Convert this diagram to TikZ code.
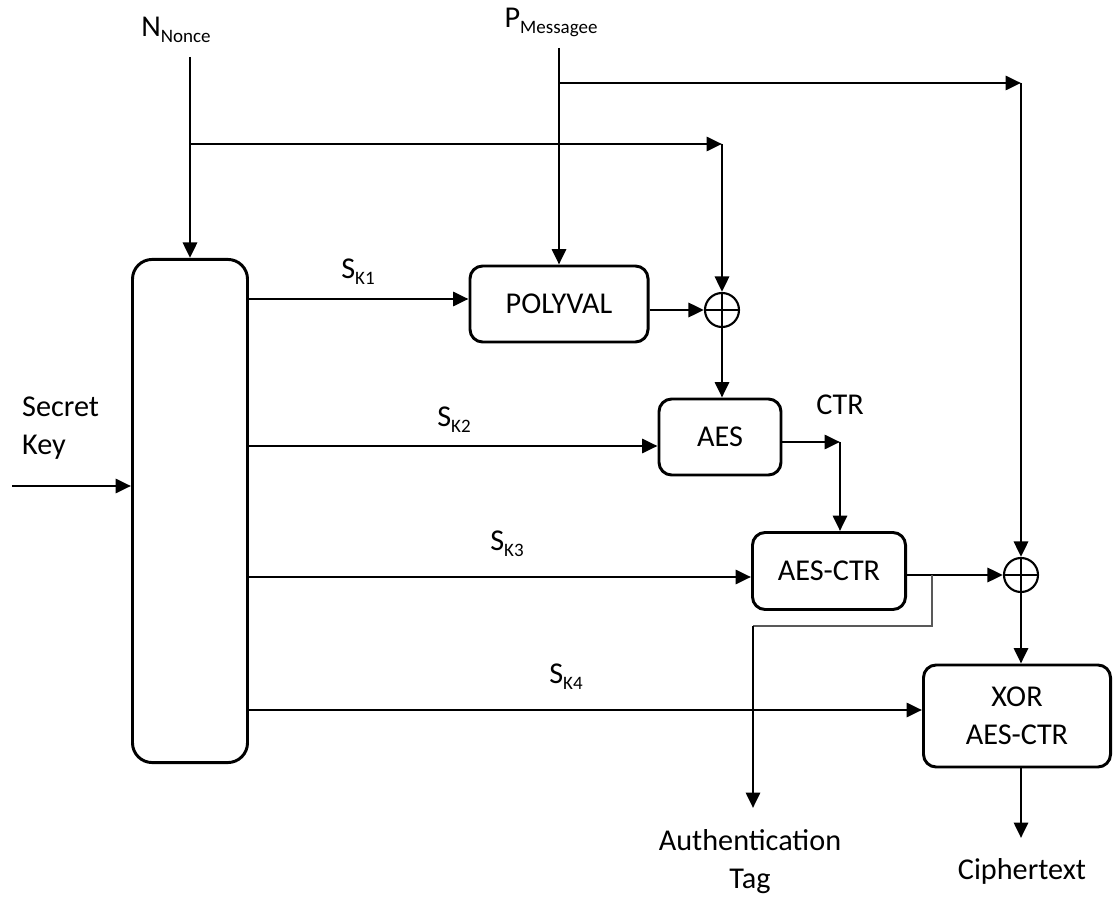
\documentclass[tikz,border=0pt]{standalone}
\usepackage{fontspec}
\setmainfont{Carlito}
\usepackage{tikz}
\usetikzlibrary{arrows.meta}
\newcommand{\lowsub}[1]{\raisebox{-0.2em}{\fontsize{13.5}{15}\selectfont #1}}

\begin{document}
\begin{tikzpicture}[
    x=0.025cm, y=-0.025cm,
    font=\fontsize{21.5}{27}\selectfont,
    >={Triangle[length=11pt, width=10pt]},
    line width=2.1pt,
    block/.style={draw, rounded corners=9pt, align=center},
    xorsum/.style={draw, circle, minimum size=0.85cm, inner sep=0pt, line width=1.5pt,
        path picture={\draw[line width=1.5pt]
            (path picture bounding box.north) -- (path picture bounding box.south)
            (path picture bounding box.west) -- (path picture bounding box.east);}}
]

\useasboundingbox (0,0) rectangle (1113,899);

\node[block, minimum width=2.875cm, minimum height=12.575cm, rounded corners=14pt] (keybox) at (190,511) {};
\node[block, minimum width=4.45cm, minimum height=1.9cm] (polyval) at (559,304) {POLYVAL};
\node[xorsum] (xor1) at (722,310) {};
\node[block, minimum width=3.05cm, minimum height=1.9cm] (aes) at (720,437) {AES};
\node[block, minimum width=3.825cm, minimum height=1.925cm] (aesctr) at (829,571) {AES-CTR};
\node[xorsum] (xor2) at (1021,575) {};
\node[block, minimum width=4.675cm, minimum height=2.55cm] (xorctr) at (1017,716) {XOR\\AES-CTR};

\node (nonce) at (176,30) {N\lowsub{Nonce}};
\node (msg) at (551,22) {P\lowsub{Messagee}};
\node[align=left, anchor=west] (secret) at (16,428) {Secret\\Key};
\node (sk1) at (358,272) {S\lowsub{K1}};
\node (sk2) at (454,420) {S\lowsub{K2}};
\node (sk3) at (507,544) {S\lowsub{K3}};
\node (sk4) at (566,677) {S\lowsub{K4}};
\node (ctr) at (840,405) {CTR};
\node[align=center] (tag) at (750,862) {Authentication\\Tag};
\node (cipher) at (1022,871) {Ciphertext};

\coordinate (ntop) at (190,57);
\coordinate (ptop) at (559,48);
\coordinate (nturn) at (722,144);
\coordinate (pturn) at (1021,83);
\coordinate (ctrturn) at (840,442);
\coordinate (ktail) at (12,486);
\coordinate (tagtap) at (932,575);
\coordinate (tagbend) at (753,626);
\coordinate (tagtip) at (753,808);
\coordinate (ciphertip) at (1021,838);

\draw[->] (ntop) -- (keybox.north);
\draw[->] (ntop |- nturn) -- (nturn);
\draw[->] (nturn) -- (xor1.north);

\draw[->] (ptop) -- (polyval.north);
\draw[->] (ptop |- pturn) -- (pturn);
\draw[->] (pturn) -- (xor2.north);

\draw[->] (ktail) -- (keybox.west |- ktail);

\draw[->] (keybox.east |- 0,299) -- (polyval.west |- 0,299);
\draw[->] (keybox.east |- 0,446) -- (aes.west |- 0,446);
\draw[->] (keybox.east |- 0,577) -- (aesctr.west |- 0,577);
\draw[->] (keybox.east |- 0,710) -- (xorctr.west |- 0,710);

\draw[->] (polyval.east |- xor1) -- (xor1.west);
\draw[->] (xor1.south) -- (xor1.south |- aes.north);
\draw[->] (aes.east |- ctrturn) -- (ctrturn);
\draw[->] (ctrturn) -- (ctrturn |- aesctr.north);
\draw[->] (aesctr.east |- xor2) -- (xor2.west);
\draw[->] (xor2.south) -- (xor2.south |- xorctr.north);
\draw[->] (xorctr.south -| ciphertip) -- (ciphertip);

\draw[line width=1.1pt, black!65] (tagtap) |- (tagbend);
\draw[->] (tagbend) -- (tagtip);

\end{tikzpicture}
\end{document}
